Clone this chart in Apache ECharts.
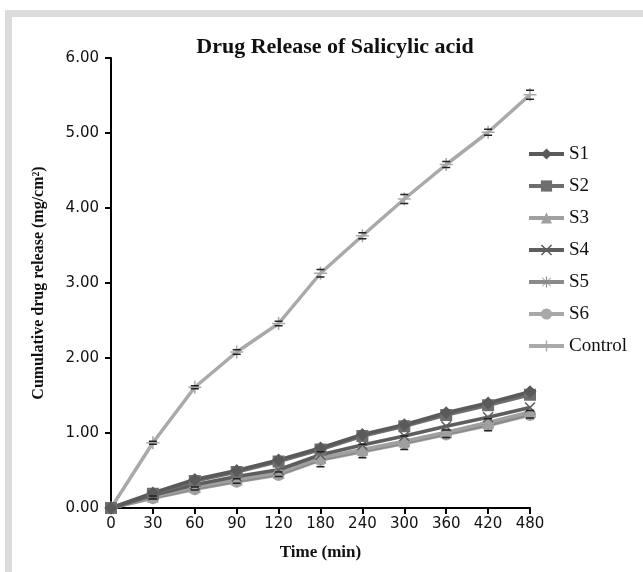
<!DOCTYPE html>
<html>
<head>
<meta charset="utf-8">
<script src="https://cdn.jsdelivr.net/npm/echarts@6/dist/echarts.min.js"></script>
<style>
  html, body { margin: 0; padding: 0; background: #fff; }
  #frame { position: absolute; left: 5px; top: 10px; width: 638px; height: 562px;
           border-top: 7px solid #dcdcdc; border-left: 7px solid #dcdcdc; box-sizing: border-box; }
  #main { position: absolute; left: 0; top: 0; width: 643px; height: 572px; }
</style>
</head>
<body>
<div id="frame"></div>
<div id="main"></div>
<script>
// time points (min)
var times = ['0', '30', '60', '90', '120', '180', '240', '300', '360', '420', '480'];

// cumulative release (mg/cm2)
var s1 = [0, 0.20, 0.38, 0.50, 0.64, 0.80, 0.98, 1.11, 1.27, 1.40, 1.55];
var s2 = [0, 0.19, 0.36, 0.48, 0.62, 0.78, 0.96, 1.09, 1.24, 1.37, 1.51];
var s3 = [0, 0.15, 0.28, 0.38, 0.47, 0.67, 0.78, 0.89, 1.01, 1.14, 1.28];
var s4 = [0, 0.17, 0.31, 0.42, 0.51, 0.71, 0.84, 0.96, 1.09, 1.21, 1.34];
var s5 = [0, 0.14, 0.26, 0.36, 0.45, 0.65, 0.76, 0.87, 0.99, 1.11, 1.25];
var s6 = [0, 0.13, 0.25, 0.35, 0.44, 0.64, 0.75, 0.86, 0.98, 1.10, 1.24];
var control = [0, 0.87, 1.61, 2.08, 2.46, 3.13, 3.63, 4.12, 4.58, 5.01, 5.51];

// error bars (± sd)
var controlErr = [0, 0.02, 0.02, 0.03, 0.03, 0.05, 0.04, 0.06, 0.04, 0.04, 0.06];
var s5Err = [0, 0.02, 0.02, 0.03, 0.03, 0.10, 0.09, 0.09, 0.05, 0.08, 0.05];

var yTicks = [0, 1, 2, 3, 4, 5, 6];

var symX = 'path://M0,1L1,0L5,4L9,0L10,1L6,5L10,9L9,10L5,6L1,10L0,9L4,5Z';
var symStar = 'path://M4.5,0H5.5V4L8.5,1L9,1.5L6,4.5H10V5.5H6L9,8.5L8.5,9L5.5,6V10H4.5V6L1.5,9L1,8.5L4,5.5H0V4.5H4L1,1.5L1.5,1L4.5,4Z';
var symPlus = 'path://M4.4,0H5.6V4.4H10V5.6H5.6V10H4.4V5.6H0V4.4H4.4Z';

var chart = echarts.init(document.getElementById('main'));

function lineSeries(name, data, color, symbol, size, z) {
    return {
        name: name,
        type: 'line',
        data: data,
        symbol: symbol,
        symbolSize: size,
        showSymbol: true,
        z: z,
        lineStyle: { color: color, width: 3.5 },
        itemStyle: { color: color },
        emphasis: { disabled: true }
    };
}

function errSeries(values, errs, z) {
    var d = values.map(function (v, i) { return [i, v, errs[i]]; });
    return {
        type: 'custom',
        z: z,
        silent: true,
        data: d,
        renderItem: function (params, api) {
            var i = api.value(0), v = api.value(1), e = api.value(2);
            if (!e) return null;
            var top = api.coord([i, v + e]);
            var bot = api.coord([i, v - e]);
            var w = 4;
            var st = { stroke: '#222', lineWidth: 1.5 };
            return {
                type: 'group',
                children: [
                    { type: 'line', shape: { x1: top[0] - w, y1: top[1], x2: top[0] + w, y2: top[1] }, style: st },
                    { type: 'line', shape: { x1: bot[0] - w, y1: bot[1], x2: bot[0] + w, y2: bot[1] }, style: st }
                ]
            };
        }
    };
}

var option = {
    animation: false,
    backgroundColor: 'transparent',
    title: {
        text: 'Drug Release of Salicylic acid',
        left: 330,
        top: 31,
        textAlign: 'center',
        textStyle: { fontFamily: 'Liberation Serif', fontWeight: 'bold', fontSize: 22, color: '#111' }
    },
    grid: { left: 111, right: 113, top: 58, bottom: 64, containLabel: false },
    legend: {
        orient: 'vertical',
        left: 522,
        top: 139,
        itemWidth: 35,
        itemHeight: 14,
        itemGap: 12,
        lineStyle: { width: 4 },
        textStyle: { fontFamily: 'Liberation Serif', fontSize: 19, color: '#111', lineHeight: 20 },
        data: ['S1', 'S2', 'S3', 'S4', 'S5', 'S6', 'Control']
    },
    xAxis: {
        type: 'category',
        data: times,
        boundaryGap: false,
        name: 'Time (min)',
        nameLocation: 'middle',
        nameGap: 36,
        nameTextStyle: { fontFamily: 'Liberation Serif', fontWeight: 'bold', fontSize: 17, color: '#111' },
        axisLine: { lineStyle: { color: '#000', width: 2 } },
        axisTick: { alignWithLabel: true, length: 6, lineStyle: { color: '#000', width: 2 } },
        axisLabel: { margin: 9, fontFamily: 'DejaVu Sans', fontSize: 15, color: '#111' },
        splitLine: { show: false }
    },
    yAxis: {
        type: 'value',
        min: yTicks[0],
        max: yTicks[yTicks.length - 1],
        interval: 1,
        name: 'Cumulative drug release (mg/cm\u00b2)',
        nameLocation: 'middle',
        nameGap: 64,
        nameTextStyle: { fontFamily: 'Liberation Serif', fontWeight: 'bold', fontSize: 16, color: '#111' },
        axisLine: { show: true, lineStyle: { color: '#000', width: 2 } },
        axisTick: { show: true, length: 6, lineStyle: { color: '#000', width: 2 } },
        axisLabel: {
            margin: 12,
            fontFamily: 'DejaVu Sans',
            fontSize: 15,
            color: '#111',
            formatter: function (v) { return v.toFixed(2); }
        },
        splitLine: { show: false }
    },
    series: [
        lineSeries('Control', control, '#a9a9a9', symPlus, 13, 2),
        errSeries(control, controlErr, 3),
        lineSeries('S6', s6, '#a8a8a8', 'circle', 12, 2),
        lineSeries('S5', s5, '#8a8a8a', symStar, 12, 2),
        errSeries(s5, s5Err, 3),
        lineSeries('S3', s3, '#a0a0a0', 'triangle', 12, 2),
        lineSeries('S4', s4, '#5e5e5e', symX, 11, 2),
        lineSeries('S2', s2, '#6e6e6e', 'rect', 12, 2),
        lineSeries('S1', s1, '#5a5a5a', 'diamond', 13, 2)
    ]
};

chart.setOption(option);
</script>
</body>
</html>
